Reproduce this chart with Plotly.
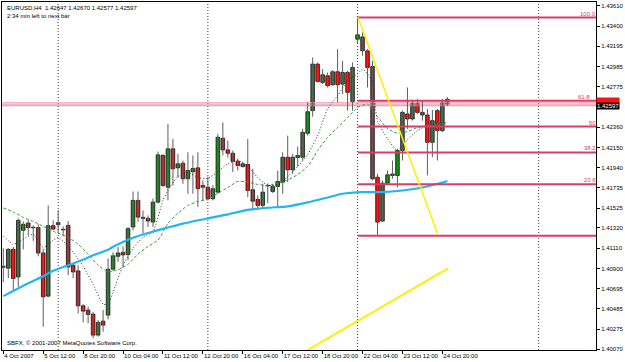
import plotly.graph_objects as go

# ---------------- data ----------------
bar_index = list(range(90))
opens = [1.40914, 1.40904, 1.41099, 1.40814, 1.41295, 1.41370, 1.41326, 1.41323, 1.41061, 1.40616,
         1.41343, 1.41374, 1.41305, 1.41346, 1.40935, 1.40876, 1.40516, 1.40472, 1.40430, 1.40214,
         1.40358, 1.40420, 1.40894, 1.41027, 1.41068, 1.41045, 1.41329, 1.41604, 1.41429, 1.41418,
         1.41380, 1.41586, 1.42067, 1.41740, 1.42136, 1.41940, 1.41987, 1.41827, 1.41899, 1.41940,
         1.41758, 1.41740, 1.41621, 1.41689, 1.42245, 1.42125, 1.42090, 1.42008, 1.41953, 1.41974,
         1.41714, 1.41614, 1.41552, 1.41753, 1.41696, 1.41748, 1.41792, 1.42049, 1.41919, 1.42046,
         1.42049, 1.42296, 1.42530, 1.43010, 1.42821, 1.42890, 1.42797, 1.42931, 1.42804, 1.42924,
         1.42625, 1.43267, 1.43291, 1.43147, 1.42985, 1.41843, 1.41391, 1.41781, 1.41861, 1.41861,
         1.42118, 1.42496, 1.42444, 1.42605, 1.42512, 1.42485, 1.42203, 1.42530, 1.42324, 1.42647]
highs = [1.41110, 1.41110, 1.41123, 1.41418, 1.41387, 1.41398, 1.41346, 1.41357, 1.41107, 1.41552,
         1.41398, 1.41501, 1.41336, 1.41391, 1.40955, 1.40935, 1.40533, 1.40506, 1.40454, 1.40369,
         1.40472, 1.41004, 1.41068, 1.41123, 1.41130, 1.41329, 1.41696, 1.41696, 1.41501, 1.41449,
         1.41624, 1.42108, 1.42084, 1.42393, 1.42238, 1.42084, 1.42015, 1.42100, 1.42067, 1.42100,
         1.41809, 1.41850, 1.41758, 1.42290, 1.42409, 1.42221, 1.42118, 1.42036, 1.41998, 1.42238,
         1.41930, 1.41655, 1.41775, 1.41778, 1.41775, 1.41912, 1.42100, 1.42272, 1.42084, 1.42159,
         1.42344, 1.42615, 1.43078, 1.43027, 1.42959, 1.42924, 1.42948, 1.43165, 1.43044, 1.42941,
         1.43027, 1.43490, 1.43335, 1.43165, 1.43044, 1.41878, 1.41809, 1.41912, 1.42015, 1.42136,
         1.42530, 1.42769, 1.42640, 1.42650, 1.42633, 1.42547, 1.42537, 1.42547, 1.42650, 1.42670]
lows = [1.40760, 1.40801, 1.40677, 1.40711, 1.41099, 1.41243, 1.41185, 1.41027, 1.40300, 1.40605,
        1.41295, 1.41277, 1.41233, 1.40832, 1.40801, 1.40438, 1.40345, 1.40335, 1.40180, 1.40197,
        1.40248, 1.40376, 1.40873, 1.40969, 1.40917, 1.40986, 1.41295, 1.41380, 1.41264, 1.41329,
        1.41329, 1.41573, 1.41740, 1.41604, 1.41758, 1.41843, 1.41775, 1.41672, 1.41672, 1.41535,
        1.41604, 1.41604, 1.41604, 1.41672, 1.42067, 1.42046, 1.41895, 1.41912, 1.41943, 1.41638,
        1.41501, 1.41508, 1.41518, 1.41576, 1.41679, 1.41542, 1.41672, 1.41792, 1.41878, 1.41953,
        1.42015, 1.42272, 1.42468, 1.42821, 1.42804, 1.42769, 1.42787, 1.42615, 1.42701, 1.42530,
        1.42530, 1.43216, 1.43096, 1.42769, 1.41809, 1.41240, 1.41380, 1.41775, 1.41827, 1.41740,
        1.42015, 1.42341, 1.42427, 1.42496, 1.42427, 1.41861, 1.42049, 1.42015, 1.42306, 1.42577]
closes = [1.40924, 1.41099, 1.40798, 1.41398, 1.41357, 1.41323, 1.41321, 1.41061, 1.40609, 1.41343,
          1.41308, 1.41354, 1.41300, 1.40917, 1.40866, 1.40516, 1.40461, 1.40427, 1.40214, 1.40345,
          1.40317, 1.40894, 1.41032, 1.41061, 1.41041, 1.41312, 1.41604, 1.41432, 1.41418, 1.41391,
          1.41586, 1.42074, 1.41758, 1.42136, 1.41930, 1.41981, 1.41827, 1.41912, 1.41933, 1.41724,
          1.41740, 1.41621, 1.41724, 1.42255, 1.42125, 1.42090, 1.42008, 1.41964, 1.41981, 1.41706,
          1.41596, 1.41552, 1.41689, 1.41758, 1.41748, 1.41799, 1.42049, 1.41919, 1.42049, 1.42067,
          1.42306, 1.42519, 1.43010, 1.42831, 1.42900, 1.42787, 1.42931, 1.42797, 1.42924, 1.42718,
          1.42975, 1.43312, 1.43147, 1.42975, 1.41827, 1.41380, 1.41781, 1.41868, 1.41876, 1.42118,
          1.42512, 1.42444, 1.42605, 1.42512, 1.42485, 1.42203, 1.42427, 1.42324, 1.42615, 1.42597]

# long moving average (blue)
ma_long_idx = [0, 4, 8, 10, 13, 16, 18, 21, 22, 26, 29, 32, 36, 41, 45, 49, 53, 57, 61, 65, 68, 72, 76, 80, 84, 88, 89]
ma_long_val = [1.40616, 1.40724, 1.40821, 1.40878, 1.40935, 1.40991, 1.41038, 1.41094, 1.41125, 1.41218,
               1.41267, 1.41310, 1.41364, 1.41418, 1.41459, 1.41506, 1.41528, 1.41542, 1.41583, 1.41634,
               1.41672, 1.41689, 1.41689, 1.41706, 1.41737, 1.41789, 1.41804]
# medium moving average (green dashed)
ma_mid_idx = [0, 2, 4, 6, 8, 10, 13, 15, 17, 19, 21, 23, 25, 27, 29, 31, 33, 35, 37, 39, 41, 43, 45, 47, 49,
              51, 53, 55, 57, 59, 61, 63, 65, 67, 69, 71, 73, 75, 77, 79, 81, 83, 85, 87, 89]
ma_mid_val = [1.41526, 1.41485, 1.41429, 1.41387, 1.41336, 1.41285, 1.41223, 1.41151, 1.41048, 1.40935,
              1.40868, 1.40888, 1.40945, 1.41048, 1.41130, 1.41192, 1.41367, 1.41470, 1.41552, 1.41593,
              1.41614, 1.41676, 1.41737, 1.41799, 1.41794, 1.41768, 1.41758, 1.41778, 1.41814, 1.41871,
              1.41953, 1.42118, 1.42252, 1.42355, 1.42458, 1.42561, 1.42597, 1.42468, 1.42344, 1.42298,
              1.42314, 1.42355, 1.42375, 1.42391, 1.42406]
# short moving average (black dotted)
ma_short_idx = [0, 2, 4, 6, 8, 10, 11, 12, 14, 16, 18, 20, 21, 22, 24, 26, 28, 30, 32, 33, 35, 37, 39, 41, 43,
                45, 47, 49, 51, 53, 55, 57, 59, 61, 63, 65, 67, 69, 71, 72, 73, 74, 75, 77, 79, 81, 83, 85, 87, 89]
ma_short_val = [1.41238, 1.41151, 1.41202, 1.41254, 1.41120, 1.41192, 1.41223, 1.41182, 1.41068, 1.40924,
                1.40739, 1.40533, 1.40533, 1.40657, 1.40935, 1.41110, 1.41223, 1.41285, 1.41604, 1.41706,
                1.41850, 1.41892, 1.41840, 1.41830, 1.41902, 1.41979, 1.42015, 1.41953, 1.41840, 1.41758,
                1.41768, 1.41850, 1.41953, 1.42077, 1.42272, 1.42550, 1.42684, 1.42838, 1.42910, 1.42957,
                1.42910, 1.42818, 1.42427, 1.42241, 1.42118, 1.42231, 1.42324, 1.42375, 1.42393, 1.42409]

# Fibonacci retracement (anchor bar 71 -> right edge)
fib_start = 71.1
fib_labels = ["100.0", "61.8", "50", "38.2", "23.6", ""]
fib_prices = [1.43490, 1.42631, 1.42365, 1.42099, 1.41771, 1.41240]

# yellow trend lines: (bar, price) pairs
trend1_x = [71.1, 87.0]
trend1_y = [1.43490, 1.41264]
trend2_x = [61.0, 89.2]
trend2_y = [1.40060, 1.40904]

# period separators (bar positions)
separators = [11, 41, 71, 107.3]

# price lines spanning full width
full_lines = [1.42612, 1.42597, 1.42580]
full_line_colors = ["#f3a3b3", "#ee8ea2", "#a0a8b8"]

# axis ticks
y_ticks = [1.43610, 1.43400, 1.43195, 1.42985, 1.42775, 1.42360, 1.42150, 1.41940, 1.41735,
           1.41525, 1.41320, 1.41110, 1.40900, 1.40695, 1.40485, 1.40275, 1.40070]
x_tick_idx = [0, 8, 16, 24, 32, 40, 48, 56, 64, 72, 80, 88]
x_tick_text = ["4 Oct 2007", "5 Oct 12:00", "8 Oct 20:00", "10 Oct 04:00", "11 Oct 12:00", "12 Oct 20:00",
               "16 Oct 04:00", "17 Oct 12:00", "18 Oct 20:00", "22 Oct 04:00", "23 Oct 12:00", "24 Oct 20:00"]

x_range = [-0.26, 118.79]
y_range = [1.40060, 1.43651]

FONT = "Liberation Sans, Arial, sans-serif"
FIB_COLOR = "#dc3c64"

fig = go.Figure()

# separators
for s in separators:
    fig.add_trace(go.Scatter(x=[s, s], y=y_range, mode="lines",
                             line=dict(color="#404040", width=1, dash="1px,2px"),
                             hoverinfo="skip", showlegend=False))

# full-width price lines
for p, c in zip(full_lines, full_line_colors):
    fig.add_trace(go.Scatter(x=x_range, y=[p, p], mode="lines",
                             line=dict(color=c, width=1), hoverinfo="skip", showlegend=False))

# wicks
wx, wy = [], []
for i, h, l in zip(bar_index, highs, lows):
    wx += [i, i, None]
    wy += [l, h, None]
fig.add_trace(go.Scatter(x=wx, y=wy, mode="lines", line=dict(color="#5e5e5e", width=1),
                         hoverinfo="skip", showlegend=False))

# bodies
base = [min(o, c) for o, c in zip(opens, closes)]
height = [abs(c - o) for o, c in zip(opens, closes)]
colors = ["#148c14" if c >= o else "#f01010" for o, c in zip(opens, closes)]
fig.add_trace(go.Bar(x=bar_index, y=height, base=base, width=0.72,
                     marker=dict(color=colors, line=dict(color="#101010", width=0.8)),
                     hoverinfo="skip", showlegend=False))

# moving averages
fig.add_trace(go.Scatter(x=ma_mid_idx, y=ma_mid_val, mode="lines",
                         line=dict(color="#3c9c3c", width=1, dash="3px,2px", shape="spline", smoothing=0.6),
                         hoverinfo="skip", showlegend=False))
fig.add_trace(go.Scatter(x=ma_short_idx, y=ma_short_val, mode="lines",
                         line=dict(color="#303030", width=1, dash="1px,2px", shape="spline", smoothing=0.6),
                         hoverinfo="skip", showlegend=False))
fig.add_trace(go.Scatter(x=ma_long_idx, y=ma_long_val, mode="lines",
                         line=dict(color="#22b4f4", width=2.2, shape="spline", smoothing=0.6),
                         hoverinfo="skip", showlegend=False))

# Fibonacci levels
for p in fib_prices:
    fig.add_trace(go.Scatter(x=[fib_start, x_range[1] + 1], y=[p, p], mode="lines",
                             line=dict(color=FIB_COLOR, width=2), hoverinfo="skip", showlegend=False))

# yellow lines
fig.add_trace(go.Scatter(x=trend1_x, y=trend1_y, mode="lines", line=dict(color="#ffee00", width=1.5),
                         hoverinfo="skip", showlegend=False))
fig.add_trace(go.Scatter(x=trend2_x, y=trend2_y, mode="lines", line=dict(color="#ffee00", width=2),
                         hoverinfo="skip", showlegend=False))

annotations = []
for lab, p in zip(fib_labels, fib_prices):
    if not lab:
        continue
    xpos = 117.6 if lab == "61.8" else 118.7
    annotations.append(dict(x=xpos, y=p, xref="x", yref="y", text=lab, showarrow=False,
                            xanchor="right", yanchor="bottom", yshift=-1, xshift=2,
                            font=dict(family=FONT, size=6, color=FIB_COLOR)))

annotations.append(dict(x=0, y=1, xref="paper", yref="paper", xshift=3, yshift=-1,
                        text="EURUSD,H4  1.42647 1.42670 1.42577 1.42597", showarrow=False,
                        xanchor="left", yanchor="top", font=dict(family=FONT, size=6, color="black")))
annotations.append(dict(x=0, y=1, xref="paper", yref="paper", xshift=3, yshift=-9,
                        text="2:34 min left to next bar", showarrow=False,
                        xanchor="left", yanchor="top", font=dict(family=FONT, size=6, color="black")))
annotations.append(dict(x=0, y=0, xref="paper", yref="paper", xshift=3, yshift=2,
                        text="SBFX, © 2001-2007 MetaQuotes Software Corp.", showarrow=False,
                        xanchor="left", yanchor="bottom", font=dict(family=FONT, size=6, color="black")))
# price boxes on the axis
annotations.append(dict(x=1, y=fib_prices[1], xref="paper", yref="y", text="1.42631", showarrow=False,
                        xanchor="left", yanchor="middle", bgcolor="#ff1010", borderpad=0,
                        font=dict(family=FONT, size=6, color="#ff1010")))
annotations.append(dict(x=1, y=closes[-1], xref="paper", yref="y", yshift=-2, text="1.42597", showarrow=False,
                        xanchor="left", yanchor="middle", bgcolor="black", borderpad=0,
                        font=dict(family=FONT, size=6, color="white")))

fig.update_layout(
    width=625, height=362,
    margin=dict(l=1, r=24, t=1, b=12),
    paper_bgcolor="white", plot_bgcolor="white",
    barmode="overlay", showlegend=False,
    annotations=annotations,
    font=dict(family=FONT, size=6, color="black"),
    xaxis=dict(range=x_range, tickvals=x_tick_idx, ticktext=x_tick_text, tickangle=0,
               ticks="outside", ticklen=3, tickcolor="black", ticklabelposition="outside right",
               ticklabeloverflow="allow",
               tickfont=dict(family=FONT, size=6, color="black"),
               showline=True, linecolor="black", linewidth=1, mirror=True,
               showgrid=False, zeroline=False, fixedrange=True),
    yaxis=dict(range=y_range, side="right", tickvals=y_ticks,
               ticktext=[f"{v:.5f}" for v in y_ticks],
               ticks="outside", ticklen=3, tickcolor="black", ticklabeloverflow="allow",
               tickfont=dict(family=FONT, size=6, color="black"),
               showline=True, linecolor="black", linewidth=1, mirror=True,
               showgrid=False, zeroline=False, fixedrange=True),
)

fig.write_html("out.html")
